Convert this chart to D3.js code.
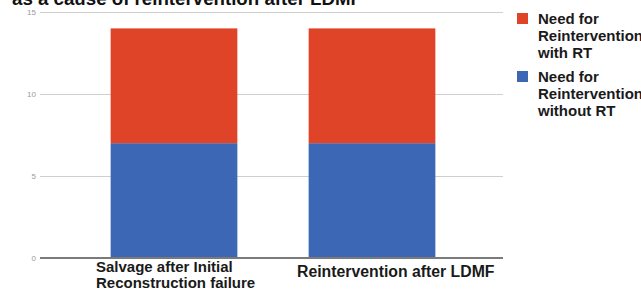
<!DOCTYPE html>
<html><head><meta charset="utf-8">
<script src="https://cdn.jsdelivr.net/npm/d3@7"></script>
<style>body{margin:0;background:#fff}svg{display:block}</style>
</head><body>
<svg id="c" width="641" height="290"></svg>
<script>
const categories = ["Salvage after Initial\nReconstruction failure", "Reintervention after LDMF"];
const withoutRT = [7, 7];
const withRT = [7, 7];
const seriesNames = ["Need for\nReintervention\nwith RT", "Need for\nReintervention\nwithout RT"];
const yTicks = [0, 5, 10, 15];
const title = "as a cause of reintervention after LDMF";

const svg = d3.select("#c");
const x = d3.scaleBand().domain(categories).range([75, 471]).paddingInner(0.36).paddingOuter(0.18);
const y = d3.scaleLinear().domain([0, 15]).range([258, 12]);
const colors = {withRT: "#df4328", withoutRT: "#3b67b4"};
const font = "Liberation Sans, Arial, sans-serif";

// title (cut off at top, as in the source)
svg.append("text").attr("x", 12).attr("y", 5)
  .attr("font-family", font).attr("font-weight", "bold")
  .attr("font-size", 18).attr("fill", "#111")
  .attr("textLength", 350).attr("lengthAdjust", "spacingAndGlyphs").text(title);

// grid
const yAxis = d3.axisLeft(y).tickValues(yTicks).tickSize(-463).tickPadding(4);
const ga = svg.append("g").attr("transform", "translate(40,0)").call(yAxis);
ga.select(".domain").remove();
ga.selectAll(".tick line").attr("stroke", "#cfcfcf").attr("stroke-width", 1);
ga.selectAll(".tick text").attr("fill", "#9a9a9a").attr("font-size", 8)
  .attr("font-family", font);

// bars
const stackData = categories.map((c, i) => ({cat: c, withoutRT: withoutRT[i], withRT: withRT[i]}));
const stack = d3.stack().keys(["withoutRT", "withRT"])(stackData);
svg.append("g").selectAll("g").data(stack).join("g")
  .attr("fill", d => colors[d.key])
  .selectAll("rect").data(d => d).join("rect")
  .attr("x", d => x(d.data.cat)).attr("width", x.bandwidth())
  .attr("y", d => y(d[1])).attr("height", d => y(d[0]) - y(d[1]));

// baseline
svg.append("line").attr("x1", 40).attr("x2", 503).attr("y1", y(0)).attr("y2", y(0))
  .attr("stroke", "#7a7a7a").attr("stroke-width", 2);

// x labels
const labelCfg = [{dx: -78, y: 272, size: 15}, {dx: -75, y: 277, size: 15.8}];
const xl = svg.append("g").attr("font-family", font)
  .attr("font-weight", "bold").attr("fill", "#1a1a1a");
categories.forEach((c, i) => {
  const cfg = labelCfg[i];
  const cx = x(c) + x.bandwidth() / 2 + cfg.dx;
  const t = xl.append("text").attr("x", cx).attr("y", cfg.y).attr("font-size", cfg.size);
  c.split("\n").forEach((line, j) => {
    t.append("tspan").attr("x", cx).attr("dy", j === 0 ? 0 : 15.5).text(line);
  });
});

// legend
const leg = svg.append("g").attr("font-family", font)
  .attr("font-weight", "bold").attr("font-size", 15).attr("fill", "#1a1a1a");
[colors.withRT, colors.withoutRT].forEach((col, i) => {
  const gy = 13 + i * 58;
  leg.append("rect").attr("x", 517).attr("y", gy).attr("width", 11).attr("height", 11).attr("fill", col);
  const t = leg.append("text").attr("x", 538).attr("y", gy + 11);
  seriesNames[i].split("\n").forEach((line, j) => {
    t.append("tspan").attr("x", 538).attr("dy", j === 0 ? 0 : 17).text(line);
  });
});
</script>
</body></html>
